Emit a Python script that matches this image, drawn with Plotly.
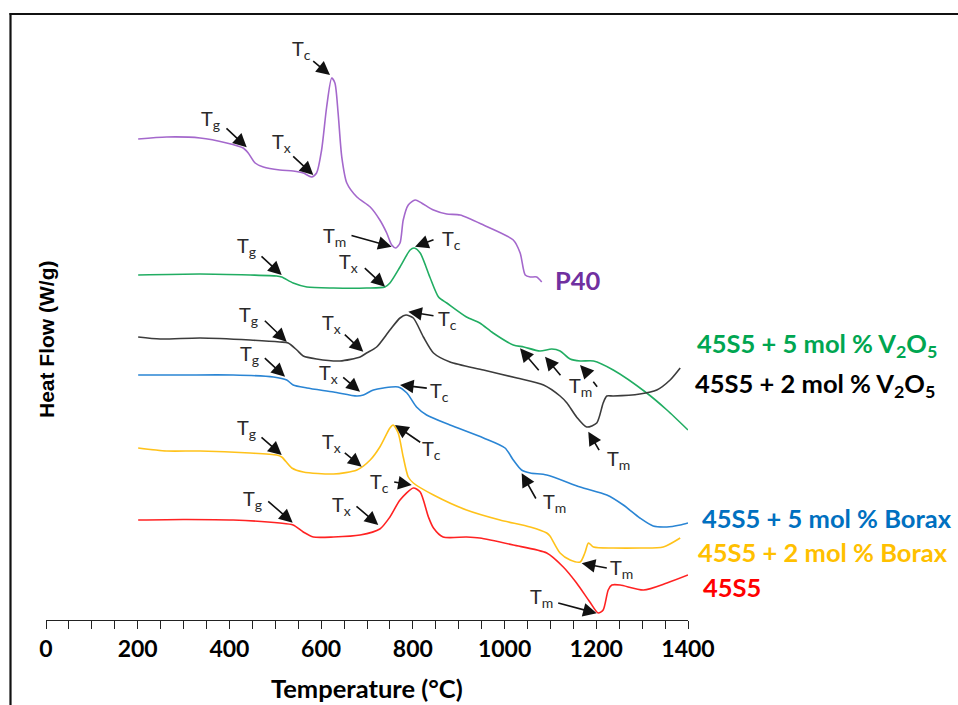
import plotly.graph_objects as go

# ---------------- data (temperature in °C, heat flow in offset W/g units) ----------------
p40_t = [201, 263, 336, 394, 430, 441, 456, 474, 510, 539, 561, 579, 590, 601, 612, 623, 630, 637,
         645, 656, 678, 707, 728, 743, 754, 763, 772, 779, 790, 805, 819, 845, 874, 903, 954, 1019,
         1034, 1045, 1056, 1070, 1081]
p40_hf = [4.83, 4.85, 4.84, 4.79, 4.74, 4.69, 4.59, 4.55, 4.52, 4.51, 4.49, 4.45, 4.49, 4.72, 5.15,
          5.44, 5.39, 5.09, 4.65, 4.39, 4.25, 4.15, 4.02, 3.89, 3.77, 3.74, 3.79, 4.02, 4.17, 4.22,
          4.19, 4.12, 4.08, 4.07, 3.97, 3.82, 3.69, 3.47, 3.45, 3.45, 3.40]

v5_t = [201, 336, 445, 503, 514, 539, 569, 627, 699, 739, 750, 772, 794, 803, 816, 837, 856, 874,
        917, 946, 975, 1019, 1042, 1077, 1103, 1121, 1143, 1165, 1194, 1237, 1310, 1354, 1400]
v5_hf = [3.47, 3.48, 3.47, 3.46, 3.45, 3.39, 3.35, 3.34, 3.34, 3.35, 3.39, 3.55, 3.72, 3.74, 3.69,
         3.45, 3.25, 3.19, 3.05, 2.99, 2.89, 2.77, 2.75, 2.71, 2.73, 2.71, 2.63, 2.61, 2.61, 2.52,
         2.29, 2.12, 1.92]

v2_t = [201, 249, 336, 445, 510, 528, 547, 561, 590, 641, 685, 699, 721, 750, 772, 785, 801, 823,
        845, 881, 954, 1027, 1085, 1121, 1136, 1157, 1179, 1201, 1215, 1223, 1237, 1295, 1332,
        1361, 1383]
v2_hf = [2.85, 2.83, 2.84, 2.82, 2.80, 2.79, 2.72, 2.66, 2.63, 2.61, 2.65, 2.69, 2.75, 2.92, 3.04,
         3.07, 3.04, 2.85, 2.69, 2.60, 2.52, 2.44, 2.37, 2.26, 2.19, 2.05, 1.95, 1.99, 2.19, 2.26,
         2.26, 2.28, 2.32, 2.42, 2.54]

b5_t = [201, 299, 408, 496, 525, 539, 569, 627, 678, 692, 714, 736, 768, 787, 808, 830, 881, 954,
        1001, 1019, 1037, 1056, 1092, 1165, 1223, 1259, 1295, 1324, 1354, 1383, 1400]
b5_hf = [2.47, 2.47, 2.47, 2.45, 2.42, 2.37, 2.34, 2.30, 2.26, 2.27, 2.32, 2.34, 2.35, 2.29, 2.15,
         2.07, 1.97, 1.84, 1.74, 1.62, 1.52, 1.49, 1.47, 1.35, 1.27, 1.17, 1.04, 0.96, 0.95, 0.97,
         0.99]

b2_t = [201, 263, 336, 445, 503, 514, 536, 561, 627, 678, 707, 728, 750, 757, 768, 779, 790, 801,
        845, 917, 990, 1056, 1092, 1099, 1121, 1143, 1165, 1175, 1183, 1194, 1237, 1295, 1346, 1383]
b2_hf = [1.74, 1.71, 1.71, 1.69, 1.67, 1.65, 1.54, 1.50, 1.48, 1.52, 1.62, 1.75, 1.94, 1.97, 1.89,
         1.65, 1.45, 1.39, 1.27, 1.12, 1.02, 0.95, 0.89, 0.86, 0.69, 0.62, 0.60, 0.69, 0.79, 0.75,
         0.74, 0.74, 0.75, 0.84]

s45_t = [201, 299, 408, 510, 539, 561, 583, 627, 685, 728, 750, 772, 801, 816, 834, 845, 866, 917,
         946, 1019, 1092, 1128, 1157, 1186, 1204, 1215, 1226, 1234, 1252, 1303, 1354, 1400]
s45_hf = [1.02, 1.025, 1.02, 0.99, 0.97, 0.90, 0.85, 0.85, 0.87, 0.93, 1.05, 1.22, 1.34, 1.30, 1.05,
          0.94, 0.85, 0.85, 0.84, 0.77, 0.69, 0.55, 0.39, 0.20, 0.09, 0.12, 0.32, 0.37, 0.37, 0.32,
          0.39, 0.47]

series_names = ["P40", "45S5 + 5 mol % V2O5", "45S5 + 2 mol % V2O5",
                "45S5 + 5 mol % Borax", "45S5 + 2 mol % Borax", "45S5"]
series_t = [p40_t, v5_t, v2_t, b5_t, b2_t, s45_t]
series_hf = [p40_hf, v5_hf, v2_hf, b5_hf, b2_hf, s45_hf]
line_colors = ["#A468CC", "#21AD62", "#3C3C3C", "#2A85D4", "#FFC21A", "#FF2222"]

# series labels at the right
label_texts = ["P40", "45S5 + 5 mol % V<sub>2</sub>O<sub>5</sub>", "45S5 + 2 mol % V<sub>2</sub>O<sub>5</sub>",
               "45S5 + 5 mol % Borax", "45S5 + 2 mol % Borax", "45S5"]
label_colors = ["#7030A0", "#00A651", "#000000", "#0070C0", "#FFC000", "#FF0000"]
label_px = [553, 695, 693, 700, 696, 701]      # left edge (page pixels)
label_py = [280, 345, 385, 518, 552, 587]      # centre (page pixels)

# arrows: head (T, HF) and tail (T, HF)
arrow_head_t = [437.7, 582.9, 619.3, 753.9,
                514.0, 739.3, 804.7, 1033.6, 1088.2, 1164.5, 1193.5,
                524.9, 691.9, 790.1, 1182.6,
                521.2, 684.7, 772.0, 1037.3,
                514.0, 688.4, 761.1, 1168.2,
                538.0, 724.6, 797.5, 1200.9]
arrow_head_hf = [4.747, 4.47, 5.47, 3.753,
                 3.47, 3.353, 3.753, 2.737, 2.653, 2.57, 2.403,
                 2.803, 2.703, 3.103, 1.903,
                 2.453, 2.303, 2.37, 1.487,
                 1.67, 1.553, 1.97, 0.587,
                 0.993, 0.97, 1.37, 0.087]
arrow_tail_t = [390.3, 535.8, 579.4, 662.9,
                466.7, 691.9, 848.3, 1077.3, 1124.6, 1182.6, 1204.4,
                473.9, 648.3, 848.3, 1208.1,
                473.9, 644.8, 833.7, 1070.1,
                466.7, 648.3, 819.3, 1226.2,
                481.3, 673.8, 756.0, 1113.7]
arrow_tail_hf = [4.95, 4.67, 5.62, 3.87,
                 3.67, 3.553, 3.827, 2.503, 2.453, 2.48, 2.337,
                 3.027, 2.887, 3.06, 1.703,
                 2.653, 2.46, 2.337, 1.22,
                 1.86, 1.703, 1.787, 0.537,
                 1.22, 1.17, 1.403, 0.193]
arrow_has_head = [1, 1, 1, 1,
                  1, 1, 1, 1, 1, 1, 0,
                  1, 1, 1, 1,
                  1, 1, 1, 1,
                  1, 1, 1, 1,
                  1, 1, 1, 1]

# temperature marker labels
mark_sub = ["g", "x", "c", "m"] * 6
mark_t = [359.8, 512.5, 556.1, 630.2,
          438.3, 660.7, 883.2, 1164.5,
          440.5, 622.6, 874.5, 1247.4,
          442.7, 616.0, 857.0, 1107.8,
          438.3, 621.5, 839.6, 1253.9,
          450.3, 643.3, 726.2, 1081.6]
mark_hf = [5.03, 4.795, 5.73, 3.86,
           3.76, 3.60, 3.83, 2.36,
           3.07, 2.99, 3.03, 1.63,
           2.68, 2.49, 2.31, 1.20,
           1.94, 1.80, 1.73, 0.54,
           1.23, 1.17, 1.40, 0.25]

x_tick_vals = [0, 200, 400, 600, 800, 1000, 1200, 1400]

# ---------------- figure ----------------
W, H = 958, 705
PL, PR, PT, PB = 46, 688, 14, 620   # plot area in page pixels
L, T = PL, PT
R = W - PR
B = H - PB
plot_w = PR - PL
plot_h = PB - PT


def px2paper_x(px):
    return (px - PL) / plot_w


def py2paper_y(py):
    return (PB - py) / plot_h


fig = go.Figure()
for name, t, hf, c in zip(series_names, series_t, series_hf, line_colors):
    fig.add_trace(go.Scatter(x=t, y=hf, mode="lines", name=name,
                             line=dict(color=c, width=1.6, shape="spline", smoothing=0.7),
                             hoverinfo="skip"))

ann = []
for ht, hh, tt, th, hd in zip(arrow_head_t, arrow_head_hf, arrow_tail_t, arrow_tail_hf, arrow_has_head):
    ann.append(dict(x=ht, y=hh, ax=tt, ay=th, xref="x", yref="y", axref="x", ayref="y",
                    text="", showarrow=True, arrowhead=2 if hd else 0, arrowsize=1.7,
                    arrowwidth=1.6, arrowcolor="#111111", standoff=0, startstandoff=0))

for s, t, h in zip(mark_sub, mark_t, mark_hf):
    ann.append(dict(x=t, y=h, xref="x", yref="y", text="T<sub>%s</sub>" % s, showarrow=False,
                    font=dict(family="Lato", size=20, color="#2a2a2a"),
                    xanchor="center", yanchor="middle"))

for txt, c, px, py in zip(label_texts, label_colors, label_px, label_py):
    ann.append(dict(x=px2paper_x(px), y=py2paper_y(py), xref="paper", yref="paper",
                    text=txt, showarrow=False, xanchor="left", yanchor="middle",
                    font=dict(family="Lato", size=25.5, color=c, weight="bold")))

# axis titles
ann.append(dict(x=px2paper_x(367), y=py2paper_y(688), xref="paper", yref="paper",
                text="Temperature (°C)", showarrow=False, xanchor="center", yanchor="middle",
                font=dict(family="Lato", size=25.5, color="#000000", weight="bold")))
ann.append(dict(x=px2paper_x(46), y=py2paper_y(340), xref="paper", yref="paper",
                text="Heat Flow (W/g)", showarrow=False, xanchor="center", yanchor="middle",
                textangle=-90,
                font=dict(family="Liberation Sans", size=21, color="#000000", weight="bold")))

shapes = [
    dict(type="line", xref="paper", yref="paper",
         x0=px2paper_x(10.5), x1=px2paper_x(10.5),
         y0=py2paper_y(13), y1=py2paper_y(712),
         line=dict(color="#111111", width=2.2)),
    dict(type="line", xref="paper", yref="paper",
         x0=px2paper_x(9.5), x1=px2paper_x(965),
         y0=py2paper_y(14), y1=py2paper_y(14),
         line=dict(color="#111111", width=2.2)),
]

fig.update_layout(
    width=W, height=H,
    margin=dict(l=L, r=R, t=T, b=B, autoexpand=False),
    paper_bgcolor="white", plot_bgcolor="white",
    showlegend=False,
    annotations=ann, shapes=shapes,
    xaxis=dict(range=[0, 1400], tickvals=x_tick_vals, ticks="outside", ticklen=8,
               tickwidth=1.2, tickcolor="#222222",
               minor=dict(dtick=50, ticks="outside", ticklen=8, tickwidth=1.2, tickcolor="#222222"),
               showline=True, linecolor="#222222", linewidth=1.3,
               showgrid=False, zeroline=False,
               tickfont=dict(family="Lato", size=23, color="#000000", weight="bold"),
               fixedrange=True),
    yaxis=dict(range=[0.02, 6.08], showticklabels=False, ticks="", showline=False,
               showgrid=False, zeroline=False, fixedrange=True),
)

fig.write_html("out.html", config={"displayModeBar": False},
               post_script="document.body.style.margin='0';document.body.style.overflow='hidden';")
